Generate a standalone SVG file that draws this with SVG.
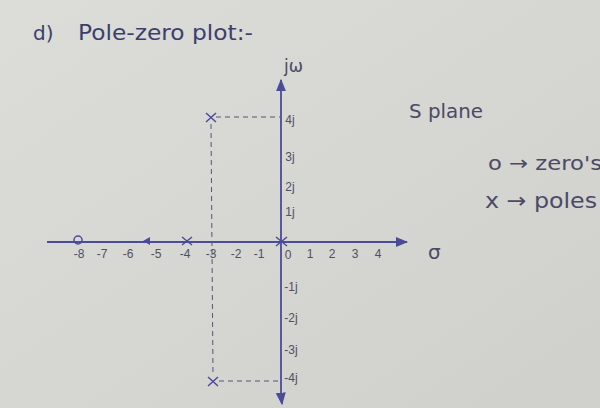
<svg xmlns="http://www.w3.org/2000/svg" width="600" height="408" viewBox="0 0 600 408">
<defs>
<linearGradient id="paper" x1="0" y1="0" x2="1" y2="1">
<stop offset="0" stop-color="#dcdcd8"/>
<stop offset="0.5" stop-color="#d6d6d2"/>
<stop offset="1" stop-color="#cfcfcb"/>
</linearGradient>
<marker id="ah" viewBox="0 0 10 10" refX="9" refY="5" markerWidth="7" markerHeight="7" orient="auto-start-reverse">
<path d="M0,1 L10,5 L0,9 z" fill="#4b4b9c"/>
</marker>
<style>
.ax{stroke:#4b4b9c;stroke-width:1.8;fill:none}
.dash{stroke:#55557a;stroke-width:1;stroke-dasharray:5 4;fill:none}
.mk{stroke:#4b4b9c;stroke-width:1.5;fill:none}
.t{font-family:"DejaVu Sans",sans-serif;fill:#4a4a66}
.tk{font-family:"Liberation Sans",sans-serif;font-size:12px;fill:#4f4f66;text-anchor:middle}
.hd{font-family:"DejaVu Sans",sans-serif;fill:#3c3f6e}
</style>
</defs>
<rect width="600" height="408" fill="url(#paper)"/>
<g id="title"><text class="hd" x="33" y="40" font-size="20">d)</text><text class="hd" x="78" y="40" font-size="21" textLength="175" lengthAdjust="spacingAndGlyphs">Pole-zero plot:-</text></g>
<g id="connectors">
<line class="ax" x1="47" y1="242" x2="407" y2="242" marker-end="url(#ah)"/>
<line class="ax" x1="281" y1="398" x2="281" y2="80" marker-end="url(#ah)"/>
<line class="ax" x1="281" y1="395" x2="282" y2="404" marker-end="url(#ah)"/>
<path d="M150,237 L143,241 L150,245 z" fill="#4b4b9c"/>
<line class="dash" x1="216" y1="117" x2="280" y2="117"/>
<line class="dash" x1="211" y1="124" x2="213" y2="376"/>
<line class="dash" x1="219" y1="381" x2="280" y2="381"/>
</g>
<g id="zero-m8"><circle class="mk" cx="78" cy="240" r="4"/></g>
<g id="pole-m4"><path class="mk" d="M182,237 L192,245 M192,237 L182,245"/></g>
<g id="pole-0"><path class="mk" d="M276,237 L287,246 M287,237 L276,246"/></g>
<g id="pole-top"><path class="mk" d="M206,113 L216,122 M216,113 L206,122"/></g>
<g id="pole-bot"><path class="mk" d="M208,377 L218,386 M218,377 L208,386"/></g>
<g id="xlabels">
<text class="tk" x="79" y="258">-8</text><text class="tk" x="102" y="258">-7</text><text class="tk" x="128" y="258">-6</text>
<text class="tk" x="156" y="258">-5</text><text class="tk" x="185" y="258">-4</text><text class="tk" x="211" y="258">-3</text>
<text class="tk" x="236" y="258">-2</text><text class="tk" x="259" y="258">-1</text><text class="tk" x="288" y="259">0</text>
<text class="tk" x="310" y="258">1</text><text class="tk" x="332" y="258">2</text><text class="tk" x="355" y="258">3</text><text class="tk" x="378" y="258">4</text>
</g>
<g id="ylabels">
<text class="tk" x="290" y="124">4j</text><text class="tk" x="290" y="161">3j</text><text class="tk" x="290" y="191">2j</text><text class="tk" x="290" y="216">1j</text>
<text class="tk" x="291" y="291">-1j</text><text class="tk" x="291" y="322">-2j</text><text class="tk" x="291" y="354">-3j</text><text class="tk" x="291" y="382">-4j</text>
</g>
<g id="axis-names">
<text class="t" x="284" y="72" font-size="17">jω</text>
<text class="t" x="428" y="259" font-size="20">σ</text>
</g>
<g id="legend">
<text class="t" x="409" y="118" font-size="19" textLength="74" lengthAdjust="spacingAndGlyphs">S plane</text>
<text class="t" x="488" y="170" font-size="20" textLength="114" lengthAdjust="spacingAndGlyphs">o → zero's</text>
<text class="t" x="485" y="208" font-size="21" textLength="112" lengthAdjust="spacingAndGlyphs">x → poles</text>
</g>
</svg>
